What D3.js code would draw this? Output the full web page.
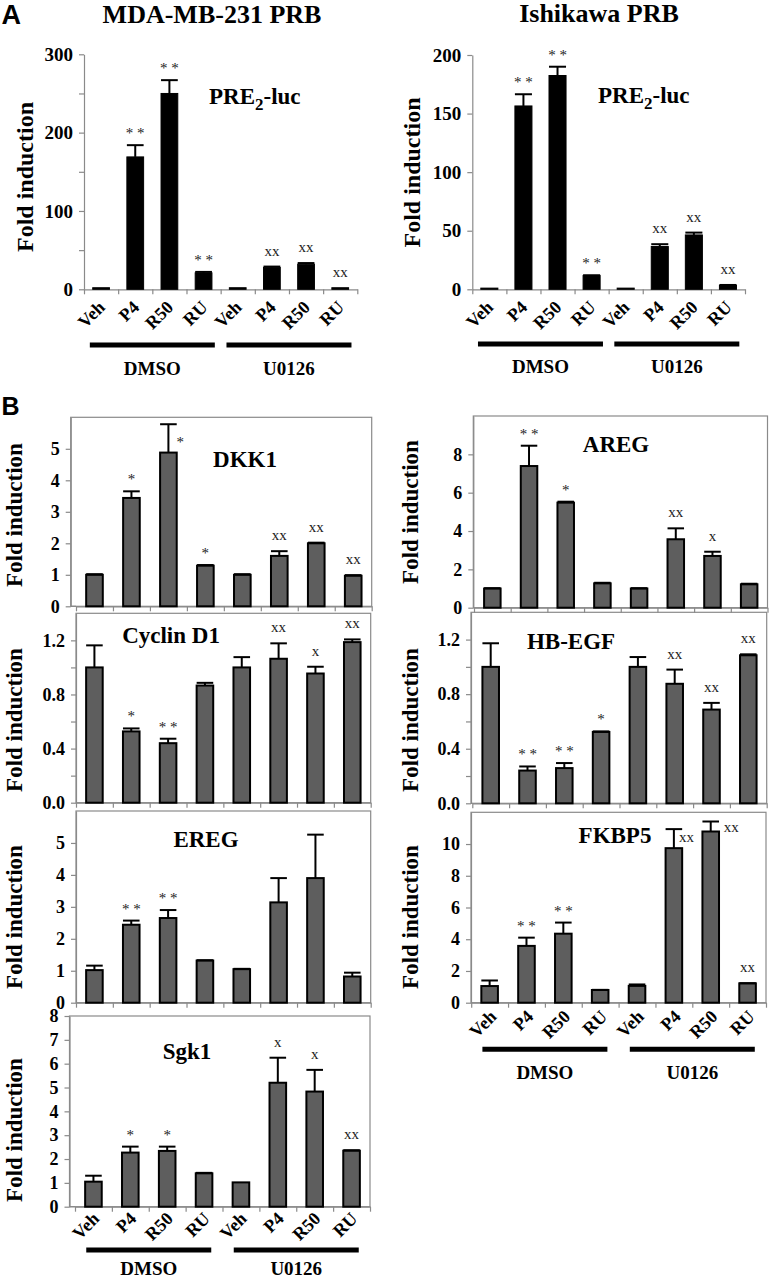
<!DOCTYPE html>
<html><head><meta charset="utf-8">
<script src="https://cdn.jsdelivr.net/npm/d3@7"></script>
<style>html,body{margin:0;padding:0;background:#fff;} svg{display:block}</style>
</head><body>
<svg id="chart" width="771" height="1280"></svg>
<script>
// ---------------- DATA ----------------
const categories = ["Veh", "P4", "R50", "RU", "Veh", "P4", "R50", "RU"];
const groups = ["DMSO", "U0126"];
const yTitle = "Fold induction";

// Panel A: PRE2-luc
const mdaMean = [2, 169, 250, 21, 2, 28, 32, 2];
const mdaErr  = [0, 15, 17, 1.2, 0, 1, 1.5, 0];
const mdaSig  = ["", "* *", "* *", "* *", "", "xx", "xx", "xx"];
const mdaTicks = [0, 50, 100, 150, 200, 250, 300];
const mdaTickLabels = [0, 100, 200, 300];

const ishMean = [1, 156.5, 182.5, 11.7, 1, 36.5, 46.4, 3.4];
const ishErr  = [0, 10, 7.5, 0.3, 0, 2, 2, 0.3];
const ishSig  = ["", "* *", "* *", "* *", "", "xx", "xx", "xx"];
const ishTicks = [0, 50, 100, 150, 200];

// Panel B genes
const dkkMean = [1.0, 3.44, 4.88, 1.29, 1.0, 1.6, 2.0, 0.97];
const dkkErr  = [0.02, 0.21, 0.9, 0.02, 0.02, 0.15, 0.02, 0.02];
const dkkSig  = ["", "*", "*", "*", "", "xx", "xx", "xx"];
const dkkTicks = [0, 1, 2, 3, 4, 5];

const aregMean = [1.0, 7.39, 5.48, 1.27, 1.0, 3.57, 2.7, 1.22];
const aregErr  = [0.02, 1.06, 0.05, 0.03, 0.02, 0.57, 0.22, 0.03];
const aregSig  = ["", "* *", "*", "", "", "xx", "x", ""];
const aregTicks = [0, 2, 4, 6, 8];

const cycMean = [1.0, 0.527, 0.44, 0.866, 1.0, 1.064, 0.955, 1.187];
const cycErr  = [0.163, 0.022, 0.033, 0.02, 0.076, 0.114, 0.05, 0.02];
const cycSig  = ["", "*", "* *", "", "", "xx", "x", "xx"];
const fracTicks = [0, 0.2, 0.4, 0.6, 0.8, 1.0, 1.2];
const fracTickLabels = [0, 0.4, 0.8, 1.2];

const hbMean = [1.0, 0.24, 0.258, 0.523, 1.0, 0.876, 0.687, 1.085];
const hbErr  = [0.173, 0.03, 0.037, 0.004, 0.072, 0.104, 0.049, 0.007];
const hbSig  = ["", "* *", "* *", "*", "", "xx", "xx", "xx"];

const eregMean = [1.02, 2.44, 2.65, 1.32, 1.05, 3.14, 3.9, 0.82];
const eregErr  = [0.14, 0.13, 0.25, 0.01, 0.01, 0.76, 1.36, 0.12];
const eregSig  = ["", "* *", "* *", "", "", "", "", ""];
const eregTicks = [0, 1, 2, 3, 4, 5];

const fkbMean = [1.05, 3.58, 4.35, 0.8, 1.06, 9.74, 10.79, 1.22];
const fkbErr  = [0.35, 0.52, 0.7, 0.01, 0.09, 1.2, 0.63, 0.01];
const fkbSig  = ["", "* *", "* *", "", "", "xx", "xx", "xx"];
const fkbTicks = [0, 2, 4, 6, 8, 10];

const sgkMean = [1.05, 2.27, 2.34, 1.4, 1.02, 5.2, 4.83, 2.35];
const sgkErr  = [0.25, 0.25, 0.18, 0.02, 0, 1.05, 0.91, 0.02];
const sgkSig  = ["", "*", "*", "", "", "x", "x", "xx"];
const sgkTicks = [0, 1, 2, 3, 4, 5, 6, 7, 8];

// ---------------- DRAWING ----------------
const SERIF = "'Liberation Serif','Times New Roman',Times,serif";
const SANS = "'Liberation Sans',Arial,Helvetica,sans-serif";
const AXIS_GRAY = "#8a8a8a";
const svg = d3.select("#chart");

function panel(c) {
  const n = categories.length;
  const g = svg.append("g");
  const x = d3.scaleBand().domain(d3.range(n)).range([c.x0, c.x1])
    .paddingInner(c.pad).paddingOuter(c.pad / 2);
  const xb = d3.scaleLinear().domain([0, n]).range([c.x0, c.x1]);
  const y = d3.scaleLinear().domain([0, c.max]).range([c.yBase, c.yTop]);
  const bw = x.bandwidth();
  const cx = i => x(i) + bw / 2;

  if (c.frame) {
    g.append("rect").attr("x", c.frameLeft).attr("y", c.yTop)
      .attr("width", c.x1 - c.frameLeft).attr("height", c.yBase - c.yTop)
      .attr("fill", "none").attr("stroke", AXIS_GRAY).attr("stroke-width", 1.2);
  }

  // axes
  const labelSet = c.tickLabels || c.ticks;
  const isLabel = d => labelSet.some(v => Math.abs(v - d) < 1e-9);
  const ya = g.append("g").attr("transform", `translate(${c.frameLeft},0)`)
    .call(d3.axisLeft(y).tickValues(c.ticks).tickSize(5).tickSizeOuter(0).tickPadding(6)
      .tickFormat(d => isLabel(d) ? c.fmt(d) : ""));
  ya.attr("font-family", SERIF).attr("font-size", c.tickFont).attr("font-weight", "bold");
  ya.selectAll("path,line").attr("stroke", AXIS_GRAY).attr("stroke-width", 1.2);
  ya.selectAll("text").attr("fill", "#000");

  const xa = g.append("g").attr("transform", `translate(0,${c.yBase})`)
    .call(d3.axisBottom(xb).tickValues(d3.range(n + 1)).tickSize(5).tickSizeOuter(0).tickFormat(""));
  xa.selectAll("path,line").attr("stroke", AXIS_GRAY).attr("stroke-width", 1.2);
  if (c.frameLeft < c.x0) {
    g.append("line").attr("x1", c.frameLeft).attr("x2", c.x0).attr("y1", c.yBase).attr("y2", c.yBase)
      .attr("stroke", AXIS_GRAY).attr("stroke-width", 1.2);
  }

  // bars
  g.append("g").selectAll("rect").data(c.mean).join("rect")
    .attr("x", (d, i) => x(i)).attr("width", bw)
    .attr("y", d => y(d)).attr("height", d => c.yBase - y(d))
    .attr("fill", c.fill).attr("stroke", "#000").attr("stroke-width", c.strokeW);

  // error bars (upper only)
  const eg = g.append("g").attr("stroke", "#000").attr("stroke-width", 2);
  c.mean.forEach((m, i) => {
    const e = c.err[i];
    if (!e) return;
    eg.append("line").attr("x1", cx(i)).attr("x2", cx(i)).attr("y1", y(m)).attr("y2", y(m + e));
    eg.append("line").attr("x1", cx(i) - bw / 2).attr("x2", cx(i) + bw / 2)
      .attr("y1", y(m + e)).attr("y2", y(m + e));
  });

  // significance marks
  c.sig.forEach((s, i) => {
    if (!s) return;
    const top = y(c.mean[i] + (c.err[i] || 0));
    const side = c.side && c.side[i];
    const t = g.append("text").text(s).attr("font-family", SERIF).attr("fill", "#222")
      .attr("font-size", 15);
    if (side) {
      t.attr("x", cx(i) + side[0]).attr("y", top + side[1]).attr("text-anchor", "start");
    } else {
      t.attr("x", cx(i)).attr("y", top - (s.includes("*") ? 7 : 11)).attr("text-anchor", "middle");
    }
  });

  // gene label
  const gl = g.append("text").attr("font-family", SERIF).attr("font-weight", "bold")
    .attr("font-size", 23).attr("fill", "#000").attr("y", c.geneY);
  if (c.genePre) {
    gl.attr("x", c.geneX).attr("text-anchor", "start");
    gl.append("tspan").text(c.genePre);
    gl.append("tspan").text(c.geneSub).attr("font-size", 17).attr("dy", 6);
    gl.append("tspan").text(c.genePost).attr("dy", -6);
  } else {
    gl.attr("x", c.geneX).attr("text-anchor", "middle").text(c.gene);
  }

  // y title
  g.append("text").text(yTitle).attr("font-family", SERIF).attr("font-weight", "bold")
    .attr("font-size", c.titleFont).attr("text-anchor", "middle")
    .attr("transform", `translate(${c.ytx},${c.yty}) rotate(-90)`);

  // x labels and group bars
  if (c.xlabels) {
    g.append("g").selectAll("text").data(categories).join("text")
      .text(d => d).attr("font-family", SERIF).attr("font-weight", "bold").attr("font-size", 18)
      .attr("text-anchor", "end")
      .attr("transform", (d, i) => `translate(${cx(i) + c.ldx},${c.yBase + c.ldy}) rotate(-45)`);
    groups.forEach((gname, gi) => {
      const first = gi * 4, last = gi * 4 + 3;
      const mid = (cx(first) + cx(last)) / 2;
      g.append("line").attr("x1", mid - 62.5).attr("x2", mid + 62.5)
        .attr("y1", c.groupY).attr("y2", c.groupY).attr("stroke", "#000").attr("stroke-width", 5);
      g.append("text").text(gname).attr("x", mid).attr("y", c.groupTextY)
        .attr("text-anchor", "middle").attr("font-family", SERIF).attr("font-weight", "bold")
        .attr("font-size", 19);
    });
  }
}

const fmtInt = d3.format("d");
const fmt1 = d3.format(".1f");
const B_FILL = "#5e5e5e";

// Panel A
panel({mean: mdaMean, err: mdaErr, sig: mdaSig, ticks: mdaTicks, tickLabels: mdaTickLabels, fmt: fmtInt,
  max: 300, x0: 84, x1: 357.3, frameLeft: 84, yTop: 54.3, yBase: 289.3, pad: 0.51, frame: false,
  fill: "#000", strokeW: 1, tickFont: 19, titleFont: 24,
  genePre: "PRE", geneSub: "2", genePost: "-luc", geneX: 209, geneY: 104,
  ytx: 33, yty: 177, xlabels: true, ldx: 5, ldy: 19, groupY: 345, groupTextY: 375});
panel({mean: ishMean, err: ishErr, sig: ishSig, ticks: ishTicks, fmt: fmtInt,
  max: 200, x0: 472.3, x1: 745, frameLeft: 472.3, yTop: 55, yBase: 289.3, pad: 0.5, frame: false,
  fill: "#000", strokeW: 1, tickFont: 19, titleFont: 24,
  genePre: "PRE", geneSub: "2", genePost: "-luc", geneX: 598, geneY: 103,
  ytx: 420, yty: 172.5, xlabels: true, ldx: 5, ldy: 19, groupY: 344, groupTextY: 373});

// Panel B
const bCommon = {fmt: fmtInt, pad: 0.55, frame: true, fill: B_FILL, strokeW: 2, tickFont: 18, titleFont: 23};
panel(Object.assign({}, bCommon, {mean: dkkMean, err: dkkErr, sig: dkkSig, ticks: dkkTicks,
  max: 6, x0: 76, x1: 371.7, frameLeft: 70.7, yTop: 417.3, yBase: 606.3,
  gene: "DKK1", geneX: 245, geneY: 466.7, ytx: 22, yty: 515, side: {2: [8, 23]}}));
panel(Object.assign({}, bCommon, {mean: aregMean, err: aregErr, sig: aregSig, ticks: aregTicks,
  max: 10, x0: 474, x1: 767.5, frameLeft: 473.3, yTop: 416, yBase: 607.7,
  gene: "AREG", geneX: 616, geneY: 451.7, ytx: 418, yty: 512}));
panel(Object.assign({}, bCommon, {mean: cycMean, err: cycErr, sig: cycSig, ticks: fracTicks,
  tickLabels: fracTickLabels, fmt: fmt1,
  max: 1.4, x0: 76, x1: 370.7, frameLeft: 76, yTop: 613.3, yBase: 802.7,
  gene: "Cyclin D1", geneX: 171, geneY: 643, ytx: 22, yty: 720}));
panel(Object.assign({}, bCommon, {mean: hbMean, err: hbErr, sig: hbSig, ticks: fracTicks,
  tickLabels: fracTickLabels, fmt: fmt1,
  max: 1.4, x0: 472.3, x1: 766.7, frameLeft: 471, yTop: 612.3, yBase: 803.3,
  gene: "HB-EGF", geneX: 571, geneY: 649, ytx: 418, yty: 720}));
panel(Object.assign({}, bCommon, {mean: eregMean, err: eregErr, sig: eregSig, ticks: eregTicks,
  max: 6, x0: 76, x1: 370.7, frameLeft: 76, yTop: 811, yBase: 1002.7,
  gene: "EREG", geneX: 206, geneY: 847, ytx: 22, yty: 917}));
panel(Object.assign({}, bCommon, {mean: fkbMean, err: fkbErr, sig: fkbSig, ticks: fkbTicks,
  max: 12, x0: 471.2, x1: 766, frameLeft: 471, yTop: 812.3, yBase: 1002.7,
  gene: "FKBP5", geneX: 615, geneY: 843, ytx: 418, yty: 917, side: {5: [5, 13], 6: [13, 10]},
  xlabels: true, ldx: 8, ldy: 15, groupY: 1049.3, groupTextY: 1079}));
panel(Object.assign({}, bCommon, {mean: sgkMean, err: sgkErr, sig: sgkSig, ticks: sgkTicks,
  max: 8, x0: 75, x1: 370, frameLeft: 69.5, yTop: 1016, yBase: 1206.7,
  gene: "Sgk1", geneX: 187, geneY: 1059.3, ytx: 22, yty: 1130,
  xlabels: true, ldx: 7, ldy: 13, groupY: 1250, groupTextY: 1275}));

// Titles and panel letters
svg.append("text").text("MDA-MB-231 PRB").attr("x", 212).attr("y", 23).attr("text-anchor", "middle")
  .attr("font-family", SERIF).attr("font-weight", "bold").attr("font-size", 26);
svg.append("text").text("Ishikawa PRB").attr("x", 599).attr("y", 22).attr("text-anchor", "middle")
  .attr("font-family", SERIF).attr("font-weight", "bold").attr("font-size", 26);
svg.append("text").text("A").attr("x", 1.5).attr("y", 24).attr("font-family", SANS)
  .attr("font-weight", "bold").attr("font-size", 27);
svg.append("text").text("B").attr("x", 1.5).attr("y", 415).attr("font-family", SANS)
  .attr("font-weight", "bold").attr("font-size", 25);
</script>
</body></html>
